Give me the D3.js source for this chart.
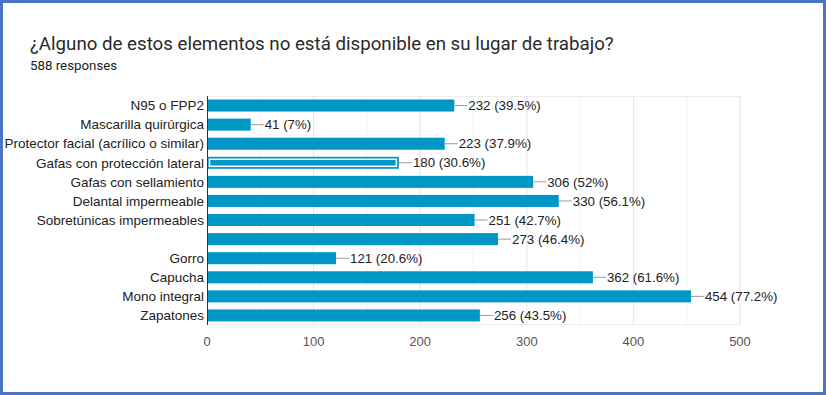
<!DOCTYPE html>
<head>
<meta charset="utf-8">
<title>Bar Chart</title>
<script src="https://d3js.org/d3.v7.min.js"></script>
<style>
body { margin: 0; background: #fff; }
</style>
</head>
<body>
<div id="container"></div>
<script>
//---------------------------DATA---------------------------//
const categories = [
  "N95 o FPP2",
  "Mascarilla quirúrgica",
  "Protector facial (acrílico o similar)",
  "Gafas con protección lateral",
  "Gafas con sellamiento",
  "Delantal impermeable",
  "Sobretúnicas impermeables",
  "",
  "Gorro",
  "Capucha",
  "Mono integral",
  "Zapatones"
];
const counts = [232, 41, 223, 180, 306, 330, 251, 273, 121, 362, 454, 256];
const percents = ["39.5%", "7%", "37.9%", "30.6%", "52%", "56.1%", "42.7%", "46.4%", "20.6%", "61.6%", "77.2%", "43.5%"];
const xTicks = [0, 100, 200, 300, 400, 500];
const minorTicks = [50, 150, 250, 350, 450];
const highlighted = 3;

//---------------------------SVG----------------------------//
const width = 826;
const height = 395;
const svg = d3.select("#container").append("svg")
    .attr("width", width)
    .attr("height", height);

svg.append("rect")
    .attr("x", 1.5).attr("y", 1.5)
    .attr("width", width - 3).attr("height", height - 3)
    .attr("fill", "#fff")
    .attr("stroke", "#4a74c2")
    .attr("stroke-width", 3);

svg.append("text")
    .attr("x", 30).attr("y", 50)
    .style("font-family", "Roboto, 'Open Sans', sans-serif")
    .style("font-size", "18.7px")
    .attr("fill", "#2a2a2a")
    .text("¿Alguno de estos elementos no está disponible en su lugar de trabajo?");

svg.append("text")
    .attr("x", 30).attr("y", 70)
    .style("font-family", "Roboto, sans-serif")
    .style("font-size", "13.3px")
    .attr("fill", "#202124")
    .text("588 responses");

//--------------------------SCALES--------------------------//
const x = d3.scaleLinear().domain([0, 500]).range([207, 740]);
const y = d3.scaleBand()
    .domain(d3.range(categories.length))
    .range([96, 325])
    .paddingInner(0.37)
    .paddingOuter(0.185);

//---------------------------GRID---------------------------//
const grid = svg.append("g");
grid.selectAll("line.minor").data(minorTicks).enter().append("line")
    .attr("class", "minor")
    .attr("x1", d => x(d)).attr("x2", d => x(d))
    .attr("y1", 96).attr("y2", 325)
    .attr("stroke", "#f3f3f3");
grid.selectAll("line.major").data(xTicks.slice(1)).enter().append("line")
    .attr("class", "major")
    .attr("x1", d => x(d)).attr("x2", d => x(d))
    .attr("y1", 96).attr("y2", 325)
    .attr("stroke", "#e4e4e4");
grid.append("line")
    .attr("x1", x(0)).attr("x2", x(500))
    .attr("y1", 96.5).attr("y2", 96.5)
    .attr("stroke", "#ececec");
grid.append("line")
    .attr("x1", x(0)).attr("x2", x(500))
    .attr("y1", 324.5).attr("y2", 324.5)
    .attr("stroke", "#ececec");

//---------------------------BARS---------------------------//
const bars = svg.append("g").selectAll("g")
    .data(counts)
    .enter().append("g");

bars.append("rect")
    .attr("x", x(0))
    .attr("y", (d, i) => y(i))
    .attr("width", d => x(d) - x(0))
    .attr("height", y.bandwidth())
    .attr("fill", "#0097c7");

// selected bar outline
svg.append("rect")
    .attr("x", x(0) + 2.5)
    .attr("y", y(highlighted) + 2.5)
    .attr("width", x(counts[highlighted]) - x(0) - 5)
    .attr("height", y.bandwidth() - 5)
    .attr("fill", "none")
    .attr("stroke", "#fff")
    .attr("stroke-width", 1.5);

bars.append("line")
    .attr("x1", d => x(d))
    .attr("x2", d => x(d) + 13)
    .attr("y1", (d, i) => y(i) + y.bandwidth() / 2)
    .attr("y2", (d, i) => y(i) + y.bandwidth() / 2)
    .attr("stroke", "#9a9a9a");

bars.append("text")
    .attr("x", d => x(d) + 14)
    .attr("y", (d, i) => y(i) + y.bandwidth() / 2)
    .attr("dy", "0.35em")
    .style("font-family", "'Liberation Sans', Arial, sans-serif")
    .style("font-size", "13.3px")
    .attr("fill", "#222")
    .text((d, i) => d + " (" + percents[i] + ")");

//---------------------------AXES---------------------------//
svg.append("g").selectAll("text")
    .data(categories)
    .enter().append("text")
    .attr("x", 204)
    .attr("y", (d, i) => y(i) + y.bandwidth() / 2)
    .attr("dy", "0.35em")
    .attr("text-anchor", "end")
    .style("font-family", "'Liberation Sans', Arial, sans-serif")
    .style("font-size", "13.5px")
    .attr("fill", "#222")
    .text(d => d);

svg.append("line")
    .attr("x1", x(0) + 0.5).attr("x2", x(0) + 0.5)
    .attr("y1", 96).attr("y2", 325)
    .attr("stroke", "#333");

svg.append("g").selectAll("text")
    .data(xTicks)
    .enter().append("text")
    .attr("x", d => x(d))
    .attr("y", 341)
    .attr("dy", "0.35em")
    .attr("text-anchor", "middle")
    .style("font-family", "'Liberation Sans', Arial, sans-serif")
    .style("font-size", "13px")
    .attr("fill", "#555")
    .text(d => d);
</script>
</body>
